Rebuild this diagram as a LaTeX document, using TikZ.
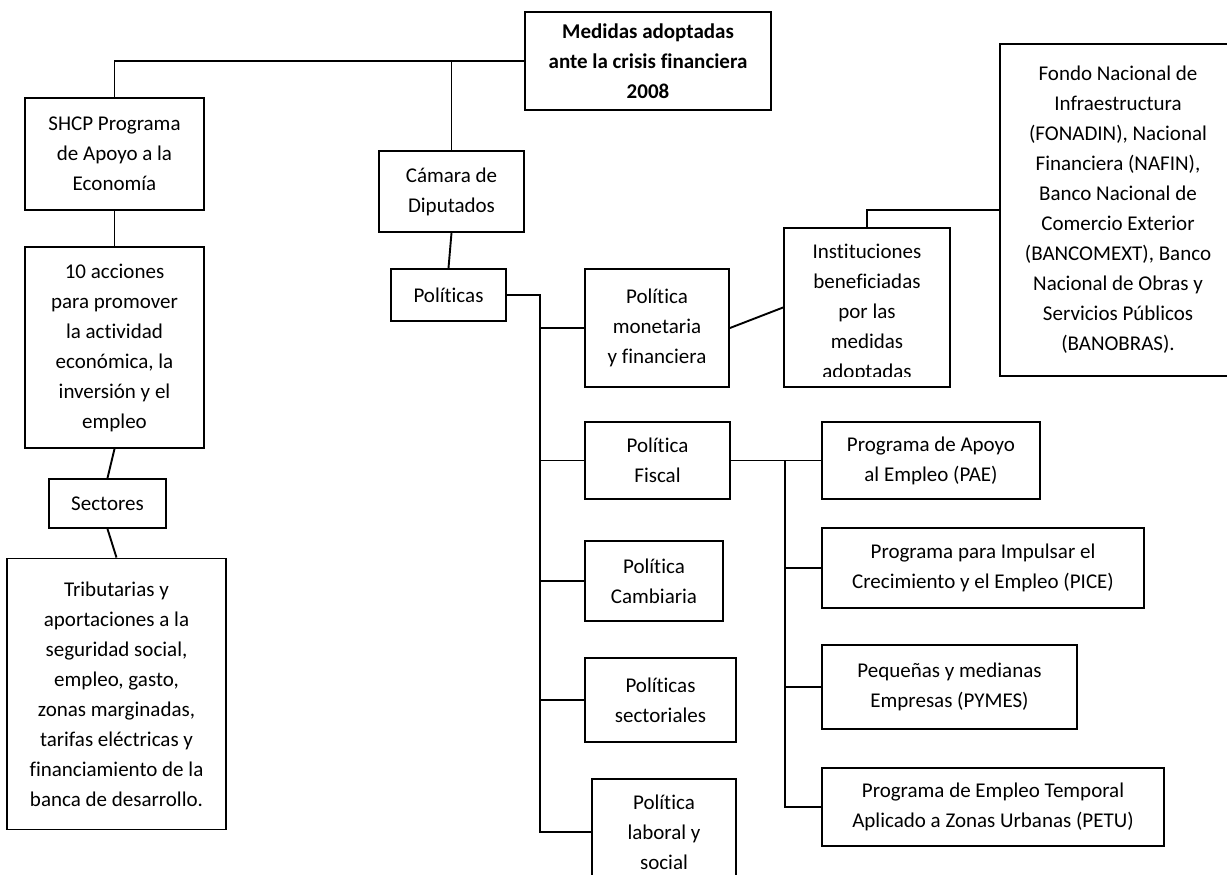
\documentclass[tikz,border=0pt]{standalone}
\usepackage{fontspec}
\setmainfont{Carlito}[Ligatures=CommonOff]
\begin{document}
\begin{tikzpicture}[x=1pt,y=-1pt,line width=1.9pt,
    caja/.style={draw,align=center,inner sep=2pt,font=\fontsize{21}{30}\selectfont},
    texto/.style={align=center,inner sep=0pt,font=\fontsize{21}{30}\selectfont}]
\useasboundingbox (0,0) rectangle (1227,875);
\clip (0,0) rectangle (1227,875);

%top
\node[caja,font=\bfseries\fontsize{21}{30}\selectfont,minimum width=246pt,minimum height=98pt] (raiz) at (648,61) {Medidas adoptadas\\ante la crisis financiera\\2008};

%left column
\node[caja,minimum width=179pt,minimum height=112pt] (shcp) at (114.5,154) {SHCP Programa\\de Apoyo a la\\Econom\'ia};
\node[caja,minimum width=179pt,minimum height=201pt] (acciones) at (114.5,347.5) {10 acciones\\para promover\\la actividad\\econ\'omica, la\\inversi\'on y el\\empleo};
\node[caja,minimum width=117pt,minimum height=49pt] (sectores) at (107.5,503.5) {Sectores};
\node[caja,minimum width=219pt,minimum height=271pt] (tributarias) at (116.5,694) {Tributarias y\\aportaciones a la\\seguridad social,\\empleo, gasto,\\zonas marginadas,\\tarifas el\'ectricas y\\financiamiento de la\\banca de desarrollo.};

%camara
\node[caja,minimum width=145pt,minimum height=81pt] (camara) at (451.5,191.5) {C\'amara de\\Diputados};
\node[caja,minimum width=115pt,minimum height=52pt] (politicas) at (448.5,295) {Pol\'iticas};

\node[caja,minimum width=144pt,minimum height=118pt] (monetaria) at (657,328) {Pol\'itica\\monetaria\\y financiera};
\node[caja,minimum width=145pt,minimum height=77pt] (fiscal) at (657.5,460.5) {Pol\'itica\\Fiscal};
\node[caja,minimum width=138pt,minimum height=80pt] (cambiaria) at (654,581) {Pol\'itica\\Cambiaria};
\node[caja,minimum width=151pt,minimum height=84pt] (sectoriales) at (660.5,700) {Pol\'iticas\\sectoriales};
\node[caja,minimum width=144pt,minimum height=106pt] (laboral) at (664,832) {Pol\'itica\\laboral y\\social};

%instituciones
\begin{scope}
\clip (784,228) rectangle (950,376);
\node[texto] (institucionest) at (867,313) {Instituciones\\beneficiadas\\por las\\medidas\\adoptadas};
\end{scope}
\node[caja,minimum width=166pt,minimum height=159pt] (instituciones) at (867,307.5) {};
\node[caja,minimum width=236pt,minimum height=332pt] (fondo) at (1118,210) {Fondo Nacional de\\Infraestructura\\(FONADIN), Nacional\\Financiera (NAFIN),\\Banco Nacional de\\Comercio Exterior\\(BANCOMEXT), Banco\\Nacional de Obras y\\Servicios P\'ublicos\\(BANOBRAS).};

%programas
\node[caja,minimum width=218pt,minimum height=77pt] (pae) at (931,460.5) {Programa de Apoyo\\al Empleo (PAE)};
\node[caja,minimum width=322pt,minimum height=80pt] (pice) at (983,568) {Programa para Impulsar el\\Crecimiento y el Empleo (PICE)};
\node[caja,minimum width=255pt,minimum height=84pt] (pymes) at (949.5,687) {Peque\~nas y medianas\\Empresas (PYMES)};
\node[caja,minimum width=342pt,minimum height=78pt] (petu) at (993,807) {Programa de Empleo Temporal\\Aplicado a Zonas Urbanas (PETU)};

%connectors
\draw (raiz.west) -| (shcp.north);
\draw (camara.north) |- (raiz.west);
\draw (shcp) -- (acciones);
\draw (acciones.south) -- (sectores.north);
\draw (sectores.south) -- (tributarias.north);
\draw (camara.south) -- (politicas.north);

\coordinate (bus) at (540,295);
\draw (politicas.east) -- (bus) |- (laboral.west);
\foreach \n in {monetaria,fiscal,cambiaria,sectoriales}{
    \draw (bus |- \n.west) -- (\n.west);
}
\draw (monetaria.east) -- (instituciones.west);
\draw (instituciones.north) |- (fondo.west);

\coordinate (bus2) at (785,460.5);
\draw (fiscal.east) -- (pae.west);
\draw (bus2) |- (petu.west);
\foreach \n in {pice,pymes}{
    \draw (bus2 |- \n.west) -- (\n.west);
}
\end{tikzpicture}
\end{document}
